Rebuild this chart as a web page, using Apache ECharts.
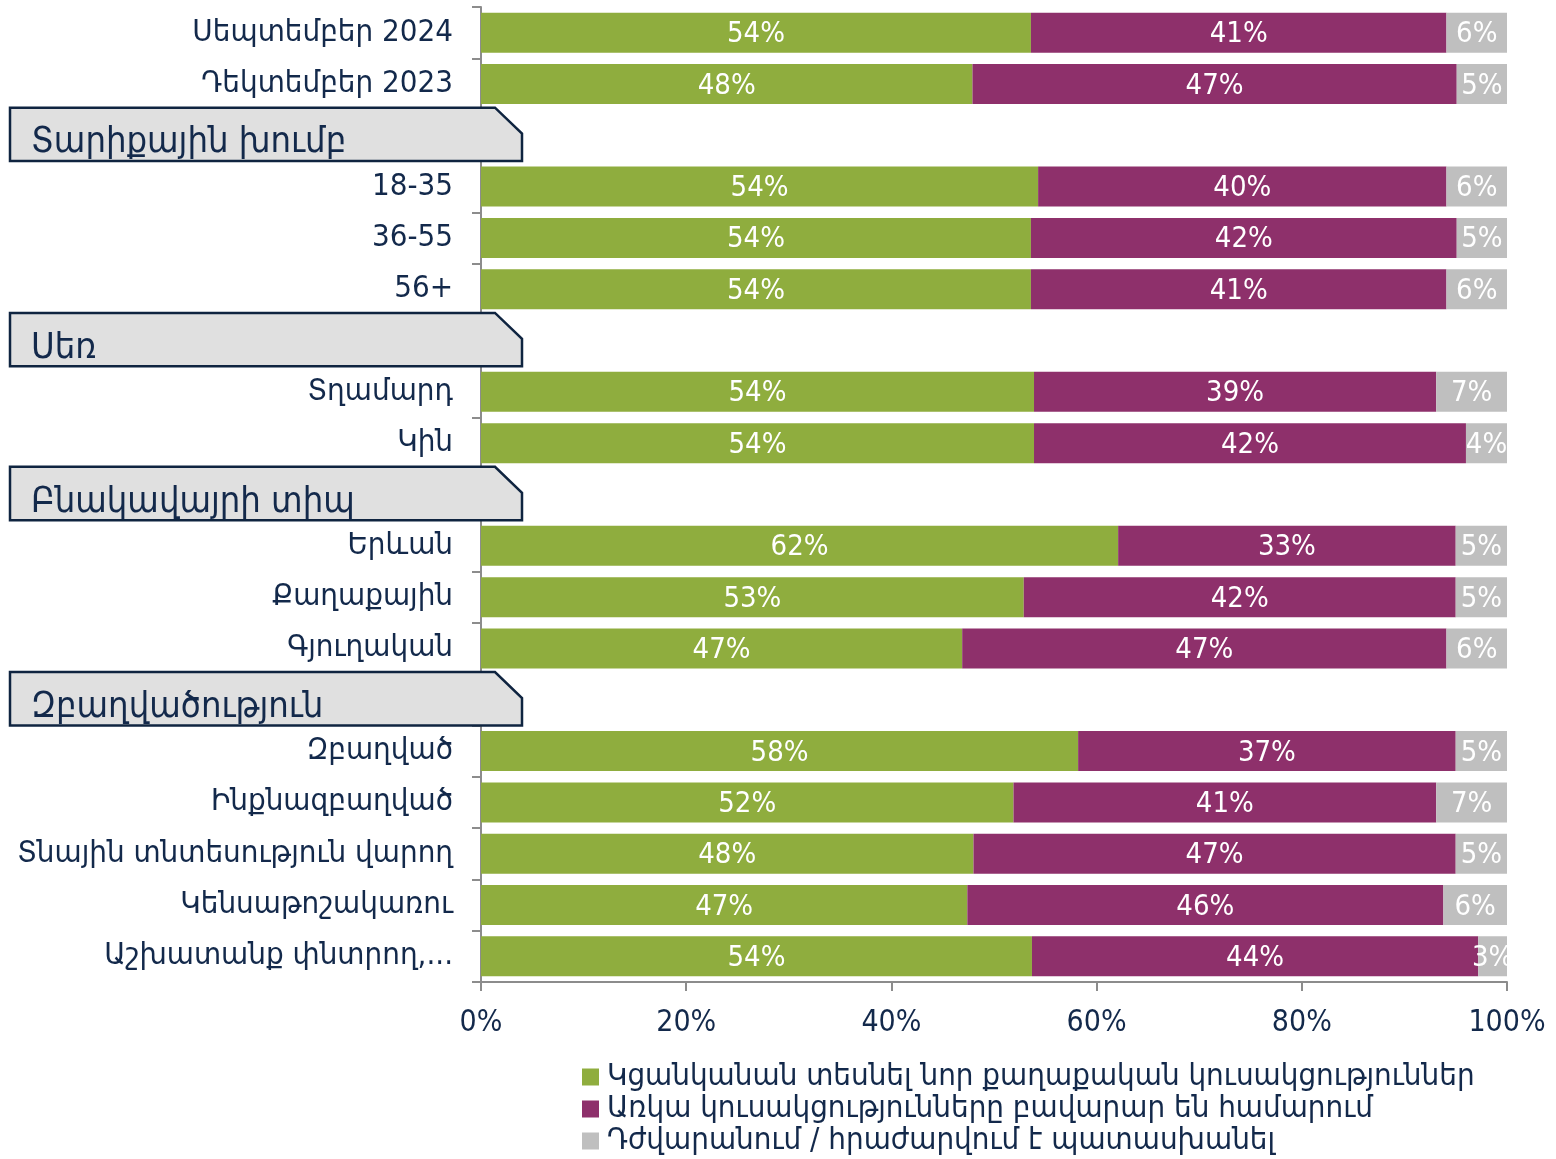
<!DOCTYPE html>
<html>
<head>
<meta charset="utf-8">
<script src="https://cdn.jsdelivr.net/npm/echarts@6/dist/echarts.min.js"></script>
<style>
  html, body { margin: 0; padding: 0; background: #fff; }
  #chart { width: 1556px; height: 1159px; }
</style>
</head>
<body>
<div id="chart"></div>
<script>
  // rows top to bottom; header rows have no bars
  const categories = [
    'Սեպտեմբեր 2024', 'Դեկտեմբեր 2023',
    'Տարիքային խումբ', '18-35', '36-55', '56+',
    'Սեռ', 'Տղամարդ', 'Կին',
    'Բնակավայրի տիպ', 'Երևան', 'Քաղաքային', 'Գյուղական',
    'Զբաղվածություն', 'Զբաղված', 'Ինքնազբաղված', 'Տնային տնտեսություն վարող', 'Կենսաթոշակառու', 'Աշխատանք փնտրող,...'
  ];
  const headers = ['Տարիքային խումբ', 'Սեռ', 'Բնակավայրի տիպ', 'Զբաղվածություն'];

  const seriesNames = [
    'Կցանկանան տեսնել նոր քաղաքական կուսակցություններ',
    'Առկա կուսակցությունները բավարար են համարում',
    'Դժվարանում / հրաժարվում է պատասխանել'
  ];
  const wantNew   = [53.6, 47.9, null, 54.3, 53.6, 53.6, null, 53.9, 53.9, null, 62.1, 52.9, 46.9, null, 58.2, 51.9, 48.0, 47.4, 53.7];
  const satisfied = [40.5, 47.2, null, 39.8, 41.5, 40.5, null, 39.2, 42.1, null, 32.9, 42.1, 47.2, null, 36.8, 41.2, 47.0, 46.4, 43.5];
  const noAnswer  = [5.9, 4.9, null, 5.9, 4.9, 5.9, null, 6.9, 4.0, null, 5.0, 5.0, 5.9, null, 5.0, 6.9, 5.0, 6.2, 2.8];

  const colors = ['#8FAD3E', '#8E306B', '#BFBFBF'];
  const navy = '#13294B';
  const axisGrey = '#8C8C8C';
  const font = "'DejaVu Sans Condensed', 'DejaVu Sans', sans-serif";

  const chart = echarts.init(document.getElementById('chart'));

  const barLabel = {
    show: true,
    position: 'inside',
    offset: [0, 2],
    color: '#fff',
    fontSize: 29,
    fontFamily: font,
    formatter: p => Math.round(p.value) + '%'
  };

  const barSeries = [wantNew, satisfied, noAnswer].map((vals, i) => ({
    name: seriesNames[i],
    type: 'bar',
    stack: 'total',
    barWidth: 40,
    itemStyle: { color: colors[i] },
    label: barLabel,
    data: vals
  }));

  // section header boxes, placed on their own category row
  const headerSeries = {
    type: 'custom',
    z: 5,
    silent: true,
    encode: { x: 0, y: 1 },
    data: headers.map(h => [0, categories.indexOf(h)]),
    renderItem: (params, api) => {
      const c = api.coord([0, api.value(1)]);
      const band = api.size([0, 1])[1];
      const x1 = 10, x2 = 522;
      const top = c[1] - band / 2 - 2;
      const bottom = c[1] + band / 2;
      return {
        type: 'group',
        children: [{
          type: 'polygon',
          shape: { points: [[x1, top], [x2 - 27, top], [x2, top + 26], [x2, bottom], [x1, bottom]] },
          style: { fill: '#E0E0E0', stroke: '#0F2440', lineWidth: 2.5 }
        }, {
          type: 'text',
          style: {
            x: x1 + 21, y: bottom,
            text: headers[params.dataIndex],
            fill: navy,
            fontSize: 36,
            fontFamily: font,
            verticalAlign: 'bottom'
          }
        }]
      };
    }
  };

  const option = {
    animation: false,
    textStyle: { fontFamily: font },
    color: colors,
    grid: { left: 481, right: 49, top: 7, bottom: 177 },
    legend: {
      orient: 'vertical',
      left: 582,
      top: 1061,
      padding: 0,
      icon: 'rect',
      itemWidth: 17,
      itemHeight: 17,
      itemGap: 0,
      textStyle: { fontSize: 31, color: navy, fontFamily: font, lineHeight: 32, padding: [0, 0, 0, 3] },
      data: seriesNames
    },
    xAxis: {
      type: 'value',
      min: 0,
      max: 100,
      interval: 20,
      axisLine: { show: true, lineStyle: { color: axisGrey, width: 2 } },
      axisTick: { show: true, length: 9, lineStyle: { color: axisGrey, width: 2 } },
      splitLine: { show: false },
      axisLabel: { formatter: '{value}%', fontSize: 30, color: navy, margin: 26 }
    },
    yAxis: {
      type: 'category',
      inverse: true,
      data: categories,
      axisLine: { show: true, lineStyle: { color: axisGrey, width: 2 } },
      axisTick: { show: true, length: 9, lineStyle: { color: axisGrey, width: 2 } },
      axisLabel: {
        fontSize: 31,
        color: navy,
        margin: 28,
        interval: 0,
        padding: [4, 0, 0, 0],
        formatter: v => headers.includes(v) ? '' : v
      }
    },
    series: barSeries.concat([headerSeries])
  };

  chart.setOption(option);
</script>
</body>
</html>
